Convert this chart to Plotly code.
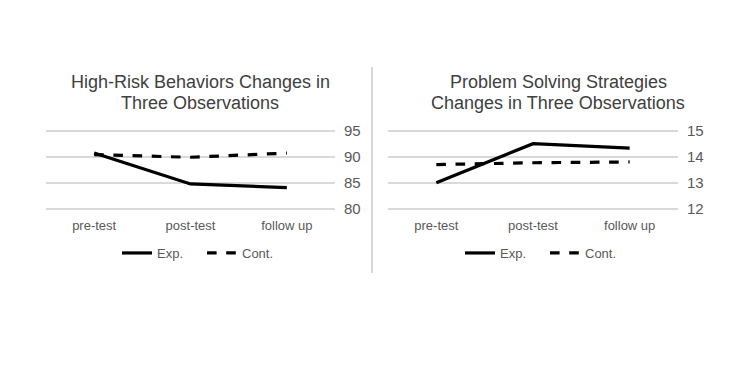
import plotly.graph_objects as go

categories = ["pre-test", "post-test", "follow up"]

# Left chart: High-Risk Behaviors
hr_exp = [90.7, 84.8, 84.1]
hr_cont = [90.4, 89.9, 90.7]
hr_ticks = [80, 85, 90, 95]

# Right chart: Problem Solving Strategies
ps_exp = [13.0, 14.5, 14.33]
ps_cont = [13.7, 13.77, 13.8]
ps_ticks = [12, 13, 14, 15]

title_lines = [["High-Risk Behaviors Changes in", "Three Observations"],
               ["Problem Solving Strategies", "Changes in Three Observations"]]

FONT = "Liberation Sans, Arial, sans-serif"
TICK_C = "#595959"
GRID_C = "#d9d9d9"
W, H, OFF = 750, 375, 8  # page body margin offset


def px(x):
    return (x - OFF) / W


def py(y):
    return (H - (y - OFF)) / H


fig = go.Figure()

fig.add_trace(go.Scatter(x=categories, y=hr_exp, mode="lines", name="Exp.",
                         line=dict(color="black", width=3.2), xaxis="x", yaxis="y", legend="legend"))
fig.add_trace(go.Scatter(x=categories, y=hr_cont, mode="lines", name="Cont.",
                         line=dict(color="black", width=3.2, dash="dash"), xaxis="x", yaxis="y", legend="legend"))
fig.add_trace(go.Scatter(x=categories, y=ps_exp, mode="lines", name="Exp.",
                         line=dict(color="black", width=3.2), xaxis="x2", yaxis="y2", legend="legend2"))
fig.add_trace(go.Scatter(x=categories, y=ps_cont, mode="lines", name="Cont.",
                         line=dict(color="black", width=3.2, dash="dash"), xaxis="x2", yaxis="y2", legend="legend2"))

ydom = [py(210), py(129.6)]
xcommon = dict(showgrid=False, zeroline=False, showline=False, ticks="", automargin=False,
               type="category", range=[-0.5, 2.5],
               tickfont=dict(family=FONT, size=13, color=TICK_C), ticklabelstandoff=6,
               fixedrange=True)
ycommon = dict(showgrid=True, gridcolor=GRID_C, gridwidth=1.5, zeroline=False, showline=False,
               side="right", ticks="", automargin=False,
               tickfont=dict(family=FONT, size=15, color=TICK_C),
               ticklabelstandoff=8, fixedrange=True)

legcommon = dict(orientation="h", xanchor="left", yanchor="middle", y=py(253),
                 font=dict(family=FONT, size=13, color=TICK_C), bgcolor="rgba(0,0,0,0)",
                 itemwidth=30, tracegroupgap=0, entrywidth=40, entrywidthmode="pixels")

annotations = []
for cx, lines in [(200, title_lines[0]), (558, title_lines[1])]:
    for i, t in enumerate(lines):
        annotations.append(dict(text=t, x=px(cx), y=py(82 + 21 * i), xref="paper", yref="paper",
                                xanchor="center", yanchor="middle", showarrow=False,
                                font=dict(family=FONT, size=18, color="#404040")))

fig.update_layout(
    width=W, height=H,
    margin=dict(l=0, r=0, t=0, b=0, autoexpand=False),
    paper_bgcolor="white", plot_bgcolor="white",
    xaxis=dict(domain=[px(46), px(335)], anchor="y", **xcommon),
    yaxis=dict(domain=ydom, anchor="x", range=[79.8, 95.2], tickvals=hr_ticks, **ycommon),
    xaxis2=dict(domain=[px(388), px(678)], anchor="y2", **xcommon),
    yaxis2=dict(domain=ydom, anchor="x2", range=[11.96, 15.04], tickvals=ps_ticks, **ycommon),
    legend=dict(x=px(117), **legcommon),
    legend2=dict(x=px(460), **legcommon),
    annotations=annotations,
    shapes=[dict(type="line", xref="paper", yref="paper", x0=px(372), x1=px(372),
                 y0=py(273), y1=py(67), line=dict(color=GRID_C, width=2))],
    showlegend=True,
)

fig.write_html("out.html")
